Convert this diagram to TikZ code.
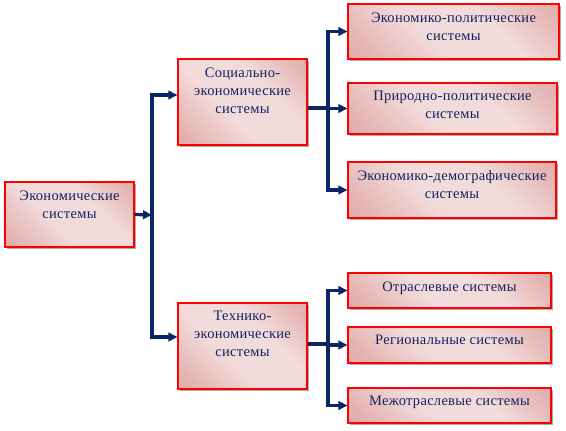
\documentclass[tikz,border=0pt]{standalone}
\usepackage{fontspec}
\setmainfont{Liberation Serif}[LetterSpace=2]
\usetikzlibrary{arrows.meta,shadows}
\definecolor{boxdark}{HTML}{D99694}
\definecolor{boxlight}{HTML}{F2DCDB}
\definecolor{boxred}{HTML}{FF0000}
\definecolor{linknavy}{HTML}{0B2665}
\definecolor{txtnavy}{HTML}{14205F}
\pgfdeclareverticalshading{sysshade}{100bp}{color(0bp)=(boxdark);
  color(22bp)=(boxdark!55!boxlight); color(42bp)=(boxlight);
  color(62bp)=(boxlight); color(80bp)=(boxdark!55!boxlight); color(100bp)=(boxdark)}
\tikzset{
  sysbox/.style={draw=boxred, line width=1.1pt, shade, shading=sysshade,
    shading angle=-45, inner sep=0pt,
    drop shadow={shadow xshift=2pt, shadow yshift=-2pt, fill=black!32, opacity=1}},
  txt/.style={font=\fontsize{14.5}{18}\selectfont, text=txtnavy, align=center,
    anchor=north, yshift=-5.5pt},
  flow/.style={-{Triangle[length=9pt,width=8.5pt]}, line width=3.2pt, color=linknavy},
  trunk/.style={line width=3.2pt, color=linknavy},
}

\begin{document}
\begin{tikzpicture}[x=1pt,y=-1pt]
  \useasboundingbox (0,0) rectangle (566,431);
  % left column
  \node[sysbox, minimum width=129pt, minimum height=65pt,
    label={[txt]north:Экономические\\системы}] (root) at (69.5,214.5) {};
  % middle column
  \node[sysbox, minimum width=129pt, minimum height=86pt,
    label={[txt]north:Социально-\\экономические\\системы}] (soc) at (242.5,102) {};
  \node[sysbox, minimum width=129pt, minimum height=86pt,
    label={[txt]north:Технико-\\экономические\\системы}] (tech) at (242.5,346) {};
  % right column, upper group
  \node[sysbox, minimum width=211pt, minimum height=55pt,
    label={[txt]north:Экономико-политические\\системы}] (ecpol) at (453.5,31.5) {};
  \node[sysbox, minimum width=209pt, minimum height=51pt,
    label={[txt]north:Природно-политические\\системы}] (natpol) at (452.5,108.5) {};
  \node[sysbox, minimum width=208pt, minimum height=56pt,
    label={[txt]north:Экономико-демографические\\системы}] (ecdem) at (452,190) {};
  % right column, lower group
  \node[sysbox, minimum width=203pt, minimum height=35pt,
    label={[txt]north:Отраслевые системы}] (branch) at (449.5,290.5) {};
  \node[sysbox, minimum width=203pt, minimum height=36pt,
    label={[txt]north:Региональные системы}] (region) at (449.5,345) {};
  \node[sysbox, minimum width=203pt, minimum height=35pt,
    label={[txt]north:Межотраслевые системы}] (inter) at (449.5,405.5) {};

  % connectors
  \coordinate (jl) at (152,215);
  \coordinate (js) at (328,108);
  \coordinate (jt) at (328,344);
  \draw[flow] (root.east) -- (jl);
  \draw[flow] (jl) |- ([yshift=7pt]soc.west);
  \draw[flow] (jl) |- ([yshift=9pt]tech.west);
  \draw[trunk] ([yshift=-6pt]soc.east) -- (js);
  \draw[flow] (js) |- (ecpol.west);
  \draw[flow] (js) |- (natpol.west);
  \draw[flow] (js) |- (ecdem.west);
  \draw[trunk] ([yshift=2pt]tech.east) -- (jt);
  \draw[flow] (jt) |- (branch.west);
  \draw[flow] (jt) |- (region.west);
  \draw[flow] (jt) |- (inter.west);
\end{tikzpicture}
\end{document}
